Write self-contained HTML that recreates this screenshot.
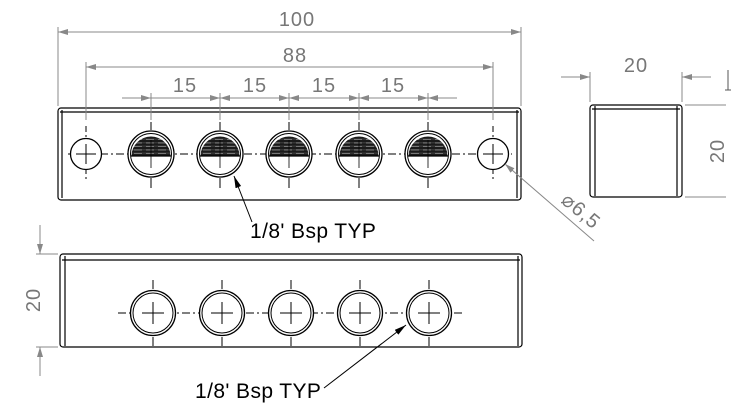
<!DOCTYPE html>
<html><head><meta charset="utf-8"><style>
html,body{margin:0;padding:0;background:#fff;}
svg{display:block;}
text{font-family:"Liberation Sans",sans-serif;}
</style></head><body>
<svg width="745" height="412" viewBox="0 0 745 412" xmlns="http://www.w3.org/2000/svg">
<defs>
<marker id="a" viewBox="0 0 10 6" refX="10" refY="3" markerWidth="10" markerHeight="6" orient="auto-start-reverse" markerUnits="userSpaceOnUse"><path d="M0,0 L10,3 L0,6 Z" fill="#888"/></marker>
<marker id="b" viewBox="0 0 12 6" refX="12" refY="3" markerWidth="12" markerHeight="6" orient="auto" markerUnits="userSpaceOnUse"><path d="M0,0 L12,3 L0,6 Z" fill="#000"/></marker>
<pattern id="h" width="12" height="3.5" patternUnits="userSpaceOnUse"><rect width="12" height="3.5" fill="#777"/><rect y="0" width="12" height="2.3" fill="#1a1a1a"/><rect x="3" y="2.3" width="4" height="1.2" fill="#333"/></pattern>
<g id="th">
 <circle r="23" fill="none" stroke="#000" stroke-width="1.3"/>
 <circle r="20.5" fill="none" stroke="#000" stroke-width="1"/>
 <path d="M-19.5,2 A19.5,19.5 0 0 1 19.5,2 Z" fill="url(#h)"/>
 <line x1="-20" y1="2" x2="20" y2="2" stroke="#000" stroke-width="1.2"/>
 <line x1="0" y1="-32" x2="0" y2="-24" stroke="#000"/><line x1="0" y1="24" x2="0" y2="34" stroke="#000"/>
 <line x1="0" y1="-14" x2="0" y2="14" stroke="#000" stroke-width=".8"/>
</g>
<g id="bh">
 <circle r="22.5" fill="none" stroke="#000" stroke-width="1.3"/>
 <circle r="20" fill="none" stroke="#000" stroke-width="1"/>
 <line x1="-11" y1="0" x2="11" y2="0" stroke="#000"/><line x1="0" y1="-11" x2="0" y2="11" stroke="#000"/>
 <line x1="0" y1="-33" x2="0" y2="-24" stroke="#000"/><line x1="0" y1="24" x2="0" y2="33" stroke="#000"/>
</g>
</defs>
<g fill="none" stroke="#000" stroke-width="1.2">
 <rect x="58" y="108" width="463" height="92" rx="3"/>
 <line x1="62" y1="110" x2="62" y2="198"/><line x1="517" y1="110" x2="517" y2="198"/>
 <line x1="60" y1="112" x2="519" y2="112"/>
 <rect x="590" y="105" width="92" height="92" rx="3"/>
 <line x1="595" y1="106" x2="595" y2="196"/><line x1="677" y1="106" x2="677" y2="196"/>
 <line x1="592" y1="109" x2="680" y2="109"/>
 <rect x="60" y="254" width="462" height="93" rx="3"/>
 <line x1="65" y1="256" x2="65" y2="346"/><line x1="518" y1="256" x2="518" y2="346"/>
 <line x1="62" y1="260" x2="520" y2="260"/>
</g>
<g stroke="#000" stroke-width="1" stroke-dasharray="8,3,2,3">
 <line x1="68" y1="154" x2="512" y2="154"/>
 <line x1="118" y1="313" x2="465" y2="313"/>
</g>
<g stroke="#000" stroke-width="1" stroke-dasharray="6,3,2,3">
 <line x1="86" y1="126" x2="86" y2="182"/><line x1="493" y1="126" x2="493" y2="182"/>
</g>
<g fill="#fff" stroke="#000" stroke-width="1.3">
 <circle cx="86" cy="154" r="15.5"/><circle cx="493" cy="154" r="15.5"/>
</g>
<g stroke="#000" stroke-width="1"><path d="M76,154h20M86,144v20M483,154h20M493,144v20"/></g>
<g fill="#fff"><circle cx="151" cy="154" r="23"/><circle cx="220" cy="154" r="23"/><circle cx="289" cy="154" r="23"/><circle cx="359" cy="154" r="23"/><circle cx="428" cy="154" r="23"/>
<circle cx="153" cy="313" r="22.5"/><circle cx="222" cy="313" r="22.5"/><circle cx="291" cy="313" r="22.5"/><circle cx="360" cy="313" r="22.5"/><circle cx="429" cy="313" r="22.5"/></g>
<use href="#th" x="151" y="154"/><use href="#th" x="220" y="154"/><use href="#th" x="289" y="154"/><use href="#th" x="359" y="154"/><use href="#th" x="428" y="154"/>
<use href="#bh" x="153" y="313"/><use href="#bh" x="222" y="313"/><use href="#bh" x="291" y="313"/><use href="#bh" x="360" y="313"/><use href="#bh" x="429" y="313"/>
<g stroke="#888" stroke-width="1" fill="none">
 <line x1="58" y1="27" x2="58" y2="106"/><line x1="521" y1="27" x2="521" y2="106"/>
 <line x1="58" y1="32" x2="521" y2="32" marker-start="url(#a)" marker-end="url(#a)"/>
 <line x1="86" y1="62" x2="86" y2="120"/><line x1="493" y1="62" x2="493" y2="120"/>
 <line x1="86" y1="67" x2="493" y2="67" marker-start="url(#a)" marker-end="url(#a)"/>
 <line x1="151" y1="93" x2="151" y2="120"/><line x1="220" y1="93" x2="220" y2="120"/><line x1="289" y1="93" x2="289" y2="120"/><line x1="359" y1="93" x2="359" y2="120"/><line x1="428" y1="93" x2="428" y2="120"/>
 <line x1="122" y1="98" x2="151" y2="98" marker-end="url(#a)"/>
 <line x1="151" y1="98" x2="220" y2="98" marker-end="url(#a)"/>
 <line x1="220" y1="98" x2="289" y2="98" marker-start="url(#a)" marker-end="url(#a)"/>
 <line x1="289" y1="98" x2="359" y2="98" marker-start="url(#a)" marker-end="url(#a)"/>
 <line x1="359" y1="98" x2="428" y2="98" marker-start="url(#a)" marker-end="url(#a)"/>
 <line x1="428" y1="98" x2="457" y2="98" marker-start="url(#a)"/>
 <line x1="590" y1="72" x2="590" y2="102"/><line x1="682" y1="72" x2="682" y2="102"/>
 <line x1="561" y1="77" x2="590" y2="77" marker-end="url(#a)"/>
 <line x1="711" y1="77" x2="682" y2="77" marker-end="url(#a)"/>
 <line x1="685" y1="105" x2="726" y2="105"/><line x1="685" y1="197" x2="726" y2="197"/>
 <line x1="728" y1="70" x2="728" y2="90" stroke="#555"/><line x1="725" y1="90" x2="731" y2="90" stroke="#555"/>
 <line x1="594" y1="241" x2="505" y2="164" marker-end="url(#a)"/>
 <line x1="36" y1="254" x2="58" y2="254"/><line x1="36" y1="347" x2="58" y2="347"/>
 <line x1="40" y1="225" x2="40" y2="254" marker-end="url(#a)"/>
 <line x1="40" y1="376" x2="40" y2="347" marker-end="url(#a)"/>
</g>
<g fill="#777" font-size="20">
 <text x="297" y="26" text-anchor="middle" letter-spacing="1">100</text>
 <text x="295" y="62" text-anchor="middle" letter-spacing="1">88</text>
 <text x="185" y="92" text-anchor="middle" letter-spacing="1">15</text>
 <text x="255" y="92" text-anchor="middle" letter-spacing="1">15</text>
 <text x="324" y="92" text-anchor="middle" letter-spacing="1">15</text>
 <text x="393" y="92" text-anchor="middle" letter-spacing="1">15</text>
 <text x="636" y="72" text-anchor="middle" letter-spacing="1">20</text>
 <text transform="translate(724,151) rotate(-90)" text-anchor="middle" letter-spacing="1">20</text>
 <text transform="translate(40,300) rotate(-90)" text-anchor="middle" letter-spacing="1">20</text>
 <text transform="translate(560,202) rotate(40)" letter-spacing="1">⌀6,5</text>
</g>
<g stroke="#000" stroke-width="1" fill="none">
 <line x1="252" y1="222" x2="234" y2="176" marker-end="url(#b)"/>
 <line x1="324" y1="388" x2="406" y2="325" marker-end="url(#b)"/>
</g>
<g fill="#000" font-size="21">
 <text x="250" y="238" letter-spacing="0.4">1/8' Bsp TYP</text>
 <text x="195" y="398" letter-spacing="0.4">1/8' Bsp TYP</text>
</g>
</svg>
</body></html>
